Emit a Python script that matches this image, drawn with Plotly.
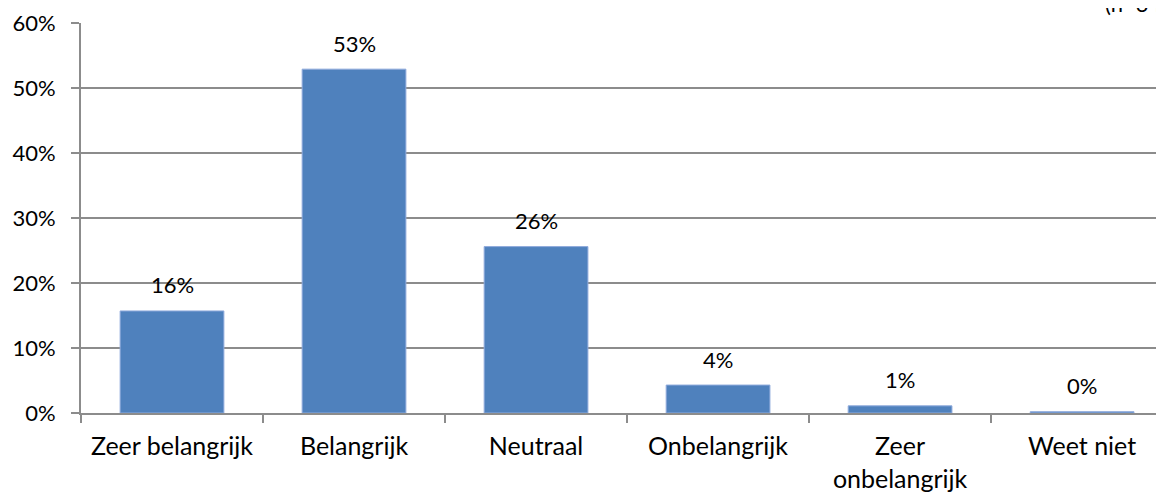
import plotly.graph_objects as go

categories = ["Zeer belangrijk", "Belangrijk", "Neutraal", "Onbelangrijk", "Zeer<br>onbelangrijk", "Weet niet"]
values = [15.7, 52.9, 25.6, 4.3, 1.1, 0.2]
labels = ["16%", "53%", "26%", "4%", "1%", "0%"]
y_ticks = [0, 10, 20, 30, 40, 50, 60]
y_tick_labels = ["0%", "10%", "20%", "30%", "40%", "50%", "60%"]
note = "(n=340)"

FONT = "Lato"
FS = 25
FS_NUM = 22
GRID = "#8C8C8C"

fig = go.Figure()
fig.add_trace(go.Bar(
    x=categories, y=values, width=0.57,
    marker=dict(color="#4F81BD", line=dict(color="#8FAADC", width=1)),
    hoverinfo="skip",
))

for c, v, t in zip(categories, values, labels):
    fig.add_annotation(x=c, y=v, text=t, showarrow=False, xref="x", yref="y",
                       yanchor="middle", yshift=26,
                       font=dict(family=FONT, size=FS_NUM, color="#000000"))

fig.add_annotation(x=(1103 - 81) / 1083, y=(413 - 4) / 390, xref="paper", yref="paper",
                   text=note, showarrow=False, xanchor="left", yanchor="middle",
                   font=dict(family=FONT, size=FS_NUM, color="#000000"))

fig.update_layout(
    width=1156, height=486,
    margin=dict(l=73, r=0, t=15, b=81, autoexpand=False),
    paper_bgcolor="white", plot_bgcolor="white",
    showlegend=False,
    font=dict(family=FONT, size=FS, color="#000000"),
)
fig.update_xaxes(
    type="category", range=[-0.5, 5.45], automargin=False,
    showline=True, linecolor=GRID, linewidth=2,
    ticks="outside", tickson="boundaries", ticklen=8, tickcolor=GRID, tickwidth=2,
    ticklabelstandoff=10, ticklabeloverflow="allow",
    showgrid=False, tickfont=dict(family=FONT, size=FS),
)
fig.update_yaxes(
    range=[0, 60], tickvals=y_ticks, ticktext=y_tick_labels, automargin=False,
    showline=True, linecolor=GRID, linewidth=2,
    ticks="outside", ticklen=8, tickcolor=GRID, tickwidth=2,
    ticklabelstandoff=11, ticklabeloverflow="allow",
    showgrid=True, gridcolor=GRID, gridwidth=2, zeroline=False,
    tickfont=dict(family=FONT, size=FS_NUM),
)

fig.write_html("out.html")
